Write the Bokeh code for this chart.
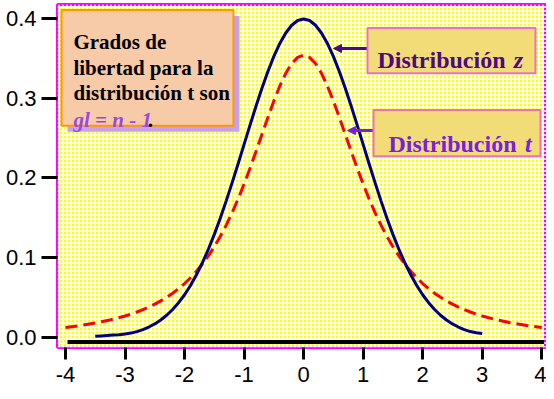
from bokeh.plotting import figure
from bokeh.models import (Label, BoxAnnotation, Arrow, NormalHead, FixedTicker,
                          NumeralTickFormatter, Range1d)
from bokeh.embed import file_html
from bokeh.resources import INLINE

# ---- data ----
z_x = [-3.5, -3.4, -3.3, -3.2, -3.1, -3.0, -2.9, -2.8, -2.7, -2.6, -2.5, -2.4, -2.3, -2.2,
       -2.1, -2.0, -1.9, -1.8, -1.7, -1.6, -1.5, -1.4, -1.3, -1.2, -1.1, -1.0, -0.9, -0.8,
       -0.7, -0.6, -0.5, -0.4, -0.3, -0.2, -0.1, 0.0, 0.1, 0.2, 0.3, 0.4, 0.5, 0.6, 0.7,
       0.8, 0.9, 1.0, 1.1, 1.2, 1.3, 1.4, 1.5, 1.6, 1.7, 1.8, 1.9, 2.0, 2.1, 2.2, 2.3, 2.4,
       2.5, 2.6, 2.7, 2.8, 2.9, 3.0]
z_y = [0.002, 0.0025, 0.003, 0.0035, 0.004, 0.005, 0.006, 0.0079, 0.0104, 0.0136, 0.0175,
       0.0224, 0.0283, 0.0355, 0.044, 0.054, 0.0656, 0.079, 0.094, 0.1109, 0.1295, 0.1497,
       0.1714, 0.1942, 0.2179, 0.242, 0.2661, 0.2897, 0.3123, 0.3332, 0.3521, 0.3683,
       0.3814, 0.391, 0.397, 0.3989, 0.397, 0.391, 0.3814, 0.3683, 0.3521, 0.3332, 0.3123,
       0.2897, 0.2661, 0.242, 0.2179, 0.1942, 0.1714, 0.1497, 0.1295, 0.1109, 0.094, 0.079,
       0.0656, 0.054, 0.044, 0.0355, 0.0283, 0.0224, 0.0175, 0.0136, 0.0104, 0.0079,
       0.0065, 0.0055]

t_x = [-4.0, -3.75, -3.5, -3.25, -3.0, -2.9, -2.8, -2.7, -2.6, -2.5, -2.4, -2.3, -2.2, -2.1,
       -2.0, -1.9, -1.8, -1.7, -1.6, -1.5, -1.4, -1.3, -1.2, -1.1, -1.0, -0.9, -0.8, -0.7,
       -0.6, -0.5, -0.4, -0.3, -0.2, -0.1, 0.0, 0.1, 0.2, 0.3, 0.4, 0.5, 0.6, 0.7, 0.8,
       0.9, 1.0, 1.1, 1.2, 1.3, 1.4, 1.5, 1.6, 1.7, 1.8, 1.9, 2.0, 2.1, 2.2, 2.3, 2.4, 2.5,
       2.6, 2.7, 2.8, 2.9, 3.0, 3.25, 3.5, 3.75, 4.0]
t_y = [0.0131, 0.0155, 0.0186, 0.0225, 0.0274, 0.0298, 0.0324, 0.0353, 0.0386, 0.0422,
       0.0463, 0.0508, 0.0559, 0.0616, 0.068, 0.0753, 0.0834, 0.0925, 0.1027, 0.1141,
       0.1269, 0.1411, 0.1567, 0.1739, 0.1925, 0.2123, 0.2331, 0.2545, 0.2758, 0.2963,
       0.315, 0.331, 0.3432, 0.3509, 0.3536, 0.3509, 0.3432, 0.331, 0.315, 0.2963, 0.2758,
       0.2545, 0.2331, 0.2123, 0.1925, 0.1739, 0.1567, 0.1411, 0.1269, 0.1141, 0.1027,
       0.0925, 0.0834, 0.0753, 0.068, 0.0616, 0.0559, 0.0508, 0.0463, 0.0422, 0.0386,
       0.0353, 0.0324, 0.0298, 0.0274, 0.0225, 0.0186, 0.0155, 0.0131]

base_x = [-3.966, 4.04]
base_y = [-0.005, -0.005]

x_ticks = [-4, -3, -2, -1, 0, 1, 2, 3, 4]
x_tick_labels = ["-4", "-3", "-2", "-1", "0", "1", "2", "3", "4"]
y_ticks = [0.0, 0.1, 0.2, 0.3, 0.4]

MAG = "#ff00ff"

p = figure(width=546, height=391, output_backend="svg", toolbar_location=None,
           x_range=Range1d(-4.134, 4.08), y_range=Range1d(-0.012, 0.417),
           min_border_left=57, min_border_right=0, min_border_top=4, min_border_bottom=44)
p.background_fill_color = "#ffff00"
p.border_fill_color = "white"
p.outline_line_color = MAG
p.outline_line_width = 3
p.grid.visible = False

# checker-like texture
p.add_layout(BoxAnnotation(fill_alpha=0, line_alpha=0, hatch_pattern="cross",
                           hatch_color="white", hatch_scale=4, hatch_weight=1.7,
                           level="underlay"))

for ax in (p.xaxis[0], p.yaxis[0]):
    ax.axis_line_color = None
    ax.major_tick_line_width = 3
    ax.major_tick_line_color = "black"
    ax.minor_tick_line_color = None
    ax.major_label_text_font = "Liberation Sans"
    ax.major_label_text_font_size = "22px"
    ax.major_label_text_color = "black"

p.xaxis.ticker = FixedTicker(ticks=x_ticks)
p.xaxis.major_label_overrides = {t: s for t, s in zip(x_ticks, x_tick_labels)}
p.yaxis.ticker = FixedTicker(ticks=y_ticks)
p.yaxis.formatter = NumeralTickFormatter(format="0.0")
p.xaxis.major_tick_out = 12
p.xaxis.major_tick_in = 0
p.yaxis.major_tick_out = 16
p.yaxis.major_tick_in = 0
p.xaxis.major_label_standoff = 7
p.yaxis.major_label_standoff = 5

# curves
p.line(base_x, base_y, line_color="black", line_width=4)
p.line(t_x, t_y, line_color="#ff0000", line_width=3, line_dash="12 6")
p.line(z_x, z_y, line_color="#000080", line_width=3)

# ---- box 1 (note) ----
p.add_layout(BoxAnnotation(left=-3.966, right=-1.077, top=0.4025, bottom=0.258,
                           fill_color="#c8a0f0", fill_alpha=1, line_alpha=0, level="overlay"))
p.add_layout(BoxAnnotation(left=-4.067, right=-1.178, top=0.410, bottom=0.2654,
                           fill_color="#f7caa8", fill_alpha=1, line_color="#ff9900",
                           line_alpha=1, line_width=2, level="overlay"))
note_lines = ["Grados de", "libertad para la", "distribución t son"]
note_y = [0.370, 0.3374, 0.3058]
for txt, yy in zip(note_lines, note_y):
    p.add_layout(Label(x=-3.866, y=yy, text=txt, text_font="Liberation Serif",
                       text_font_style="bold", text_font_size="21px",
                       text_color="black", text_baseline="alphabetic", level="overlay"))
p.add_layout(Label(x=-3.866, y=0.2728, text="gl = n - 1", text_font="Liberation Serif",
                   text_font_style="bold italic", text_font_size="21px",
                   text_color="#9a48e0", text_baseline="alphabetic", level="overlay"))
p.add_layout(Label(x=-2.62, y=0.2728, text=".", text_font="Liberation Serif",
                   text_font_style="bold", text_font_size="21px",
                   text_color="black", text_baseline="alphabetic", level="overlay"))

# ---- box 2 (z) ----
p.add_layout(BoxAnnotation(left=1.073, right=3.895, top=0.3877, bottom=0.3309,
                           fill_color="#f2dc78", fill_alpha=1, line_color="#f070b8",
                           line_alpha=1, line_width=2, level="overlay"))
p.add_layout(Label(x=1.241, y=0.348, text="Distribución", text_font="Liberation Serif",
                   text_font_style="bold", text_font_size="24px", text_color="#4c0a80",
                   text_baseline="alphabetic", level="overlay"))
p.add_layout(Label(x=3.53, y=0.348, text="z", text_font="Liberation Serif",
                   text_font_style="bold italic", text_font_size="24px", text_color="#4c0a80",
                   text_baseline="alphabetic", level="overlay"))
p.add_layout(Arrow(x_start=1.073, y_start=0.362, x_end=0.502, y_end=0.362,
                   line_color="#4c0a80", line_width=3,
                   end=NormalHead(size=8, fill_color="#4c0a80", line_color="#4c0a80")))

# ---- box 3 (t) ----
p.add_layout(BoxAnnotation(left=1.174, right=3.979, top=0.2852, bottom=0.2272,
                           fill_color="#f2dc78", fill_alpha=1, line_color="#f070b8",
                           line_alpha=1, line_width=2, level="overlay"))
p.add_layout(Label(x=1.426, y=0.243, text="Distribución", text_font="Liberation Serif",
                   text_font_style="bold", text_font_size="24px", text_color="#7a1ee0",
                   text_baseline="alphabetic", level="overlay"))
p.add_layout(Label(x=3.72, y=0.243, text="t", text_font="Liberation Serif",
                   text_font_style="bold italic", text_font_size="24px", text_color="#7a1ee0",
                   text_baseline="alphabetic", level="overlay"))
p.add_layout(Arrow(x_start=1.174, y_start=0.2593, x_end=0.737, y_end=0.2593,
                   line_color="#7a1ee0", line_width=3,
                   end=NormalHead(size=8, fill_color="#7a1ee0", line_color="#7a1ee0")))

open("out.html", "w").write(file_html(p, INLINE))
